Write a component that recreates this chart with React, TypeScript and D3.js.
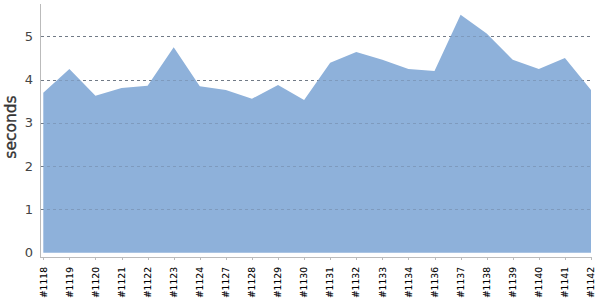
import React from "react";
import * as d3 from "d3";

const categories = ["#1118","#1119","#1120","#1121","#1122","#1123","#1124","#1127","#1128","#1129","#1130","#1131","#1132","#1133","#1134","#1136","#1137","#1138","#1139","#1140","#1141","#1142"];
const seconds = [3.70,4.25,3.63,3.81,3.86,4.75,3.85,3.76,3.56,3.88,3.53,4.39,4.64,4.46,4.25,4.20,5.50,5.07,4.46,4.25,4.50,3.76];
const yTicks = [0,1,2,3,4,5];

export default function App() {
  const W = 600, H = 300;
  const x = d3.scalePoint<string>().domain(categories).range([43.3, 591]);
  const y = d3.scaleLinear().domain([0, 5.75]).range([252.7, 4]);
  const area = d3.area<number>()
    .x((_, i) => x(categories[i]) as number)
    .y0(y(0))
    .y1((d) => y(d));
  const font = "'DejaVu Sans', sans-serif";
  return (
    <svg width={W} height={H} style={{ position: "absolute", left: 0, top: 0 }}>
      <rect width={W} height={H} fill="#fff" />
      {yTicks.filter(t => t > 0).map(t => (
        <line key={"g"+t} x1={41} x2={591} y1={Math.round(y(t)) + 0.5} y2={Math.round(y(t)) + 0.5}
          stroke="#777" strokeWidth={1} strokeDasharray="3,3" />
      ))}
      <path d={area(seconds) || ""} fill="#8eb1da" />
      {yTicks.filter(t => t > 0).map(t => (
        <line key={"g2"+t} x1={41} x2={591} y1={Math.round(y(t)) + 0.5} y2={Math.round(y(t)) + 0.5}
          stroke="#6a7f99" strokeOpacity={0.45} strokeWidth={1} strokeDasharray="3,3" />
      ))}
      <line x1={40.5} x2={40.5} y1={4} y2={257.5} stroke="#bbb" />
      <line x1={40} x2={592} y1={257.5} y2={257.5} stroke="#bbb" />
      {categories.map(c => (
        <line key={"t"+c} x1={Math.round(x(c) as number) + 0.5} x2={Math.round(x(c) as number) + 0.5} y1={257} y2={260} stroke="#bbb" />
      ))}
      {yTicks.map(t => (
        <text key={"y"+t} x={33} y={y(t)} dy="0.35em" textAnchor="end" fontFamily={font} fontSize={13} fill="#444">{t}</text>
      ))}
      {categories.map(c => (
        <text key={"x"+c} transform={`translate(${(x(c) as number) + 3.2},267) rotate(-90)`} textAnchor="end"
          fontFamily={font} fontSize={9.2} fill="#000" stroke="#000" strokeWidth={0.1}>{c}</text>
      ))}
      <text transform="translate(16,127) rotate(-90)" textAnchor="middle" fontFamily={font} fontSize={15.5} fill="#333" stroke="#333" strokeWidth={0.35}>seconds</text>
    </svg>
  );
}
